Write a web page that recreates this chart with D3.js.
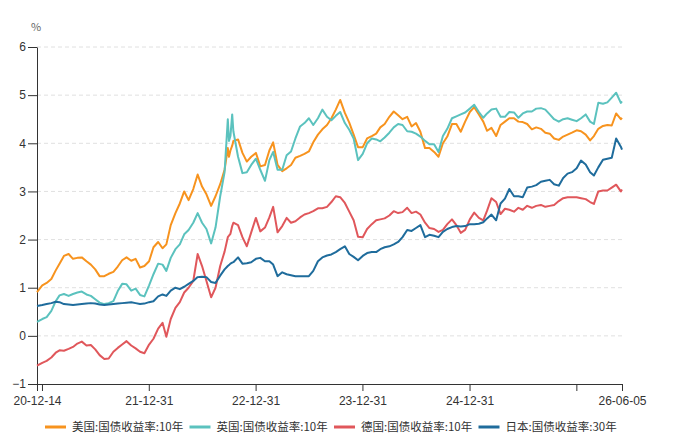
<!DOCTYPE html>
<html>
<head>
<meta charset="utf-8">
<script src="https://cdn.jsdelivr.net/npm/d3@7"></script>
<style>
body { margin: 0; background: #fff; }
svg { font-family: "Microsoft YaHei", "Noto Sans CJK SC", sans-serif; }
</style>
</head>
<body>
<script>
// dates (semi-monthly samples + a few extra around the Oct 2022 gilt spike)
const dates = [
  "2020-12-14",
  "2021-01-01","2021-01-16","2021-02-01","2021-02-16","2021-03-01","2021-03-16","2021-04-01","2021-04-16","2021-05-01","2021-05-16","2021-06-01","2021-06-16",
  "2021-07-01","2021-07-16","2021-08-01","2021-08-16","2021-09-01","2021-09-16","2021-10-01","2021-10-16","2021-11-01","2021-11-16","2021-12-01","2021-12-16",
  "2022-01-01","2022-01-16","2022-02-01","2022-02-16","2022-03-01","2022-03-16","2022-04-01","2022-04-16","2022-05-01","2022-05-16","2022-06-01","2022-06-16",
  "2022-07-01","2022-07-16","2022-08-01","2022-08-16","2022-09-01","2022-09-16","2022-09-27","2022-10-01","2022-10-06","2022-10-12","2022-10-16","2022-11-01","2022-11-16","2022-12-01","2022-12-16",
  "2023-01-01","2023-01-16","2023-02-01","2023-02-16","2023-03-01","2023-03-16","2023-04-01","2023-04-16","2023-05-01","2023-05-16","2023-06-01","2023-06-16",
  "2023-07-01","2023-07-16","2023-08-01","2023-08-16","2023-09-01","2023-09-16","2023-10-01","2023-10-16","2023-11-01","2023-11-16","2023-12-01","2023-12-16",
  "2024-01-01","2024-01-16","2024-02-01","2024-02-16","2024-03-01","2024-03-16","2024-04-01","2024-04-16","2024-05-01","2024-05-16","2024-06-01","2024-06-16",
  "2024-07-01","2024-07-16","2024-08-01","2024-08-16","2024-09-01","2024-09-16","2024-10-01","2024-10-16","2024-11-01","2024-11-16","2024-12-01","2024-12-16",
  "2025-01-01","2025-01-16","2025-02-01","2025-02-16","2025-03-01","2025-03-16","2025-04-01","2025-04-16","2025-05-01","2025-05-16","2025-06-01","2025-06-16",
  "2025-07-01","2025-07-16","2025-08-01","2025-08-16","2025-09-01","2025-09-16","2025-10-01","2025-10-16","2025-11-01","2025-11-16","2025-12-01","2025-12-16",
  "2026-01-01","2026-01-16","2026-02-01","2026-02-16","2026-03-01","2026-03-16","2026-04-01","2026-04-16","2026-05-01","2026-05-16","2026-06-01","2026-06-05"
];

const usYield = [
  0.91,
  1.05,1.10,1.18,1.36,1.50,1.66,1.70,1.60,1.62,1.63,1.55,1.48,1.38,1.24,1.24,1.29,1.33,1.44,1.57,1.63,1.56,1.60,1.42,1.45,
  1.55,1.84,1.95,1.82,1.90,2.30,2.55,2.75,3.00,2.82,3.05,3.35,3.10,2.94,2.70,2.90,3.15,3.45,3.90,3.72,3.85,3.95,4.05,4.08,3.80,3.62,3.72,
  3.80,3.52,3.55,3.85,4.02,3.55,3.42,3.48,3.55,3.70,3.74,3.78,3.83,4.02,4.18,4.29,4.38,4.52,4.70,4.90,4.63,4.43,4.18,3.92,
  3.92,4.10,4.15,4.20,4.33,4.40,4.55,4.66,4.58,4.50,4.55,4.35,4.42,4.24,3.90,3.90,3.82,3.72,4.00,4.14,4.40,4.40,4.24,4.45,
  4.65,4.75,4.60,4.45,4.26,4.32,4.15,4.38,4.45,4.52,4.52,4.45,4.44,4.40,4.29,4.33,4.30,4.22,4.20,4.10,4.07,4.14,4.18,4.22,
  4.27,4.25,4.18,4.06,4.15,4.30,4.36,4.38,4.37,4.62,4.50,4.53
];
const ukYield = [
  0.29,
  0.35,0.39,0.52,0.72,0.84,0.87,0.83,0.87,0.90,0.92,0.86,0.83,0.76,0.69,0.66,0.68,0.72,0.93,1.08,1.07,0.94,0.98,0.85,0.82,
  1.05,1.28,1.50,1.48,1.35,1.62,1.80,1.90,2.11,2.20,2.35,2.55,2.35,2.22,1.92,2.25,2.90,3.40,4.50,4.05,4.15,4.60,4.25,3.72,3.38,3.40,3.55,
  3.68,3.45,3.22,3.65,3.82,3.45,3.45,3.75,3.83,4.10,4.35,4.42,4.52,4.38,4.52,4.70,4.55,4.48,4.57,4.65,4.42,4.28,4.10,3.65,
  3.78,4.00,4.10,4.08,4.04,4.12,4.22,4.33,4.40,4.38,4.25,4.24,4.20,4.14,4.05,3.98,3.98,3.82,4.15,4.30,4.52,4.56,4.60,4.64,
  4.72,4.80,4.65,4.53,4.62,4.70,4.72,4.55,4.55,4.65,4.64,4.53,4.62,4.66,4.66,4.72,4.73,4.70,4.60,4.50,4.45,4.50,4.52,4.49,
  4.46,4.52,4.60,4.45,4.40,4.84,4.82,4.85,4.95,5.05,4.84,4.87
];
const deYield = [
  -0.62,
  -0.56,-0.52,-0.45,-0.35,-0.30,-0.31,-0.27,-0.23,-0.16,-0.12,-0.20,-0.19,-0.28,-0.40,-0.48,-0.47,-0.33,-0.25,-0.18,-0.11,-0.20,-0.26,-0.33,-0.36,
  -0.18,-0.06,0.15,0.27,-0.02,0.35,0.58,0.70,0.90,1.00,1.14,1.70,1.45,1.14,0.80,1.00,1.45,1.75,2.05,2.08,2.12,2.28,2.35,2.30,2.05,1.86,2.15,
  2.45,2.17,2.25,2.46,2.68,2.15,2.28,2.45,2.35,2.38,2.46,2.52,2.55,2.59,2.65,2.65,2.68,2.78,2.90,2.88,2.76,2.58,2.40,2.06,
  2.05,2.22,2.32,2.40,2.42,2.44,2.50,2.59,2.55,2.57,2.66,2.55,2.58,2.52,2.35,2.24,2.22,2.16,2.20,2.32,2.42,2.30,2.14,2.20,
  2.42,2.56,2.45,2.40,2.60,2.86,2.78,2.53,2.64,2.62,2.58,2.66,2.62,2.70,2.66,2.70,2.72,2.68,2.70,2.72,2.80,2.86,2.88,2.88,
  2.88,2.86,2.84,2.78,2.74,3.00,3.02,3.02,3.08,3.14,3.00,3.04
];
const jpYield = [
  0.62,
  0.64,0.66,0.68,0.71,0.70,0.66,0.65,0.64,0.65,0.66,0.67,0.68,0.67,0.65,0.64,0.65,0.66,0.67,0.68,0.69,0.70,0.68,0.66,0.67,
  0.70,0.72,0.82,0.86,0.83,0.94,1.00,0.97,1.02,1.08,1.14,1.22,1.23,1.22,1.12,1.10,1.25,1.38,1.45,1.47,1.50,1.52,1.53,1.63,1.50,1.51,1.53,
  1.60,1.62,1.55,1.55,1.48,1.24,1.32,1.28,1.26,1.24,1.24,1.24,1.24,1.35,1.55,1.63,1.67,1.69,1.74,1.80,1.86,1.70,1.64,1.57,
  1.66,1.72,1.74,1.74,1.80,1.84,1.86,1.90,1.95,2.05,2.20,2.18,2.24,2.30,2.05,2.10,2.08,2.05,2.16,2.22,2.26,2.28,2.27,2.28,
  2.32,2.32,2.33,2.36,2.44,2.52,2.40,2.75,2.85,3.05,2.90,2.90,2.88,3.08,3.10,3.13,3.20,3.22,3.24,3.15,3.12,3.28,3.37,3.40,
  3.48,3.64,3.56,3.40,3.33,3.50,3.66,3.68,3.70,4.10,3.93,3.87
];

const seriesNames = ["美国:国债收益率:10年", "英国:国债收益率:10年", "德国:国债收益率:10年", "日本:国债收益率:30年"];
const seriesColors = ["#F7931E", "#5BC2BE", "#E0575B", "#1F6C9C"];
const yTicks = [-1, 0, 1, 2, 3, 4, 5, 6];
const xTicks = ["2020-12-14", "2020-12-31", "2021-12-31", "2022-12-31", "2023-12-31", "2024-12-31", "2025-12-31", "2026-06-05"];
const xTickShown = ["2020-12-14", "2021-12-31", "2022-12-31", "2023-12-31", "2024-12-31", "2026-06-05"];

const parseDate = d3.timeParse("%Y-%m-%d");
const fmtDate = d3.timeFormat("%y-%m-%d");

const width = 678, height = 436;
const margin = {left: 37, right: 56, top: 47, bottom: 52};

const svg = d3.select("body").append("svg").attr("width", width).attr("height", height);

const xScale = d3.scaleTime()
  .domain([parseDate(dates[0]), parseDate(dates[dates.length - 1])])
  .range([margin.left, width - margin.right]);
const yScale = d3.scaleLinear()
  .domain([-1, 6])
  .range([height - margin.bottom, margin.top]);

// grid
svg.append("g").selectAll("line")
  .data(yTicks.slice(1))
  .join("line")
  .attr("x1", margin.left).attr("x2", width - margin.right)
  .attr("y1", d => yScale(d)).attr("y2", d => yScale(d))
  .attr("stroke", "#e0e0e0")
  .attr("stroke-dasharray", "4,3");

// y axis
const yAxis = svg.append("g")
  .attr("transform", `translate(${margin.left},0)`)
  .call(d3.axisLeft(yScale).tickValues(yTicks).tickFormat(d3.format("d"))
    .tickSize(9).tickPadding(2).tickSizeOuter(0));
yAxis.select(".domain").attr("stroke", "#333");
yAxis.selectAll(".tick line").attr("stroke", "#333");
yAxis.selectAll(".tick text").attr("fill", "#333").attr("font-size", 12).attr("font-family", null);

svg.append("text")
  .attr("x", margin.left - 1).attr("y", 31)
  .attr("text-anchor", "middle")
  .attr("font-size", 11).attr("fill", "#666")
  .text("%");

// x axis
const shown = new Set(xTickShown);
const xAxis = svg.append("g")
  .attr("transform", `translate(0,${height - margin.bottom})`)
  .call(d3.axisBottom(xScale)
    .tickValues(xTicks.map(parseDate))
    .tickSize(7).tickPadding(5).tickSizeOuter(0)
    .tickFormat(d => shown.has(d3.timeFormat("%Y-%m-%d")(d)) ? fmtDate(d) : ""));
xAxis.select(".domain").attr("stroke", "#333");
xAxis.selectAll(".tick line").attr("stroke", "#333");
xAxis.selectAll(".tick text").attr("fill", "#333").attr("font-size", 12).attr("font-family", null);

// lines
const allSeries = [usYield, ukYield, deYield, jpYield];
const lineGenerator = d3.line()
  .x((d, i) => xScale(parseDate(dates[i])))
  .y(d => yScale(d));

allSeries.forEach((values, k) => {
  svg.append("path")
    .attr("fill", "none")
    .attr("stroke", seriesColors[k])
    .attr("stroke-width", 2)
    .attr("stroke-linejoin", "round")
    .attr("d", lineGenerator(values));
});

// legend - fixed step between items, as in the original
const legendStep = 144.5;
const legend = svg.append("g").attr("transform", `translate(45,427)`);
seriesNames.forEach((name, k) => {
  const item = legend.append("g").attr("transform", `translate(${k * legendStep},0)`);
  item.append("line")
    .attr("x1", 0).attr("x2", 21).attr("y1", 0).attr("y2", 0)
    .attr("stroke", seriesColors[k]).attr("stroke-width", 3);
  item.append("text")
    .attr("x", 27).attr("y", 0).attr("dy", "0.35em")
    .attr("font-size", 11.5).attr("fill", "#333")
    .text(name);
});
</script>
</body>
</html>
